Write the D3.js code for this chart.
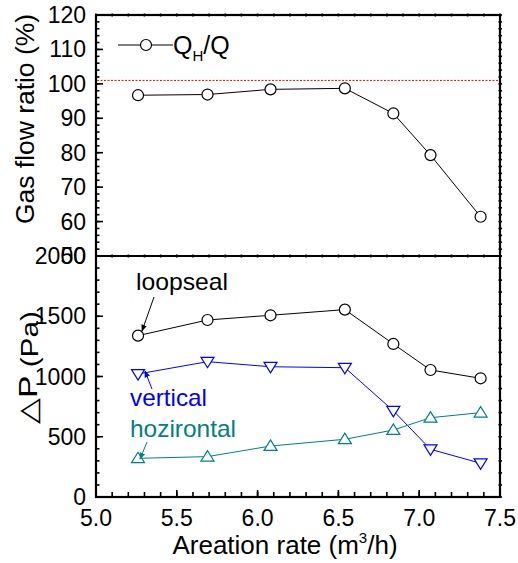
<!DOCTYPE html>
<html>
<head>
<meta charset="utf-8">
<script src="https://cdn.jsdelivr.net/npm/d3@7"></script>
<style>
  html, body { margin: 0; padding: 0; background: #fff; }
  svg { display: block; font-family: "Liberation Sans", Arial, sans-serif; }
</style>
</head>
<body>
<svg id="chart" width="518" height="563"></svg>
<script>
// Aeration rate (m3/h)
const aeration = [5.26, 5.69, 6.08, 6.54, 6.84, 7.07, 7.38];
// Gas flow ratio QH/Q (%)
const gasRatio = [96.7, 96.9, 98.4, 98.7, 91.4, 79.3, 61.4];
const refLine = 101;
// Pressure drops (Pa)
const loopseal = [1339, 1469, 1508, 1555, 1270, 1054, 985];
const vertical = [1021, 1123, 1081, 1073, 716, 396, 280];
const horizontal = [321, 335, 423, 479, 556, 658, 700];

const xTicks = [5.0, 5.5, 6.0, 6.5, 7.0, 7.5];
const topTicks = [50, 60, 70, 80, 90, 100, 110, 120];
const botTicks = [0, 500, 1000, 1500, 2000];

const svg = d3.select("#chart");
const L = 96, R = 500, T = 15, M = 256, B = 497;

const x = d3.scaleLinear().domain([5.0, 7.5]).range([L, R]);
const yTop = d3.scaleLinear().domain([50, 120]).range([M, T]);
const yBot = d3.scaleLinear().domain([0, 2000]).range([B, M]);

const fsTick = 23;
const fsTitle = 26;

// inward tick marks
function ticks(g, scale, values, len, orient, pos) {
  values.forEach(v => {
    const p = scale(v);
    if (orient === "left") g.append("line").attr("x1", pos).attr("x2", pos + len).attr("y1", p).attr("y2", p);
    if (orient === "right") g.append("line").attr("x1", pos - len).attr("x2", pos + 2).attr("y1", p).attr("y2", p);
    if (orient === "bottom") g.append("line").attr("y1", pos).attr("y2", pos - len).attr("x1", p).attr("x2", p);
    if (orient === "top") g.append("line").attr("y1", pos - 1.5).attr("y2", pos + len).attr("x1", p).attr("x2", p);
  });
}
const tg = svg.append("g").attr("stroke", "#000").attr("stroke-width", 1.6);

const xMinor = d3.range(50, 76).map(d => d / 10);
const topMinor = d3.range(50, 121, 2);
const botMinor = d3.range(0, 2001, 100);

ticks(tg, yTop, topMinor, 3.5, "left", L);
ticks(tg, yTop, topTicks, 7, "left", L);
ticks(tg, yBot, botMinor, 3.5, "left", L);
ticks(tg, yBot, botTicks, 7, "left", L);
ticks(tg, yTop, topMinor, 1.5, "right", R);
ticks(tg, yBot, botMinor, 1.5, "right", R);
ticks(tg, x, xMinor, 5, "bottom", B);
ticks(tg, x, xTicks, 7, "bottom", B);
ticks(tg, x, xMinor, 1.5, "top", T);
ticks(tg, x, xMinor, 1.5, "top", M);

// frames
svg.append("rect").attr("x", L).attr("y", T).attr("width", R - L).attr("height", B - T)
  .attr("fill", "none").attr("stroke", "#000").attr("stroke-width", 2.2);
svg.append("line").attr("x1", L).attr("x2", R).attr("y1", M).attr("y2", M)
  .attr("stroke", "#000").attr("stroke-width", 2.2);

// tick labels
const lab = svg.append("g").attr("font-size", fsTick).attr("fill", "#000");
topTicks.forEach(v => lab.append("text").attr("x", 86).attr("y", yTop(v) + 8)
  .attr("text-anchor", "end").text(v));
botTicks.forEach(v => lab.append("text").attr("x", 86).attr("y", yBot(v) + 8)
  .attr("text-anchor", "end").text(v));
xTicks.forEach(v => lab.append("text").attr("x", x(v)).attr("y", 526)
  .attr("text-anchor", "middle").text(v.toFixed(1)));

// axis titles
const xt = svg.append("text").attr("x", 285).attr("y", 554).attr("font-size", fsTitle)
  .attr("text-anchor", "middle");
xt.append("tspan").text("Areation rate (m");
xt.append("tspan").attr("font-size", 15).attr("dy", -11).text("3");
xt.append("tspan").attr("dy", 11).text("/h)");

svg.append("text").attr("transform", "translate(34,119) rotate(-90)")
  .attr("font-size", fsTitle).attr("text-anchor", "middle")
  .attr("textLength", 210).attr("lengthAdjust", "spacingAndGlyphs")
  .text("Gas flow ratio (%)");

const dp = svg.append("text").attr("transform", "translate(37,424) rotate(-90)")
  .attr("font-size", 26).attr("text-anchor", "start")
  .attr("textLength", 113).attr("lengthAdjust", "spacingAndGlyphs");
dp.append("tspan").text("\u25B3P");
dp.append("tspan").attr("font-size", 23).attr("dy", 1).text(" (Pa)");

// reference line
svg.append("line").attr("x1", L + 1).attr("x2", R - 1).attr("y1", yTop(refLine)).attr("y2", yTop(refLine))
  .attr("stroke", "#ff0000").attr("stroke-width", 1).attr("stroke-dasharray", "2,1.5");

// series lines and markers
function series(vals, yScale, color, shape) {
  const pts = aeration.map((a, i) => [x(a), yScale(vals[i])]);
  svg.append("path").attr("d", d3.line()(pts)).attr("fill", "none")
    .attr("stroke", color).attr("stroke-width", 1);
  const g = svg.append("g");
  pts.forEach(([px, py]) => {
    if (shape === "circle") {
      g.append("circle").attr("cx", px).attr("cy", py).attr("r", 5.5)
        .attr("fill", "#fff").attr("stroke", color).attr("stroke-width", 1.2);
    } else {
      const s = shape === "down" ? 1 : -1;
      const h = 5.5;
      const pth = `M${px - 6.5},${py - s * h * 0.8} L${px + 6.5},${py - s * h * 0.8} L${px},${py + s * h * 1.1} Z`;
      g.append("path").attr("d", pth).attr("fill", "#fff").attr("stroke", color).attr("stroke-width", 1.2);
    }
  });
}
series(gasRatio, yTop, "#000", "circle");
series(loopseal, yBot, "#000", "circle");
series(vertical, yBot, "#0000ff", "down");
series(horizontal, yBot, "#008080", "up");

// legend
const lg = svg.append("g");
lg.append("line").attr("x1", 118).attr("x2", 173).attr("y1", 45).attr("y2", 45)
  .attr("stroke", "#000").attr("stroke-width", 1);
lg.append("circle").attr("cx", 146).attr("cy", 45).attr("r", 5.5)
  .attr("fill", "#fff").attr("stroke", "#000").attr("stroke-width", 1.2);
const lt = lg.append("text").attr("x", 173).attr("y", 54).attr("font-size", 25);
lt.append("tspan").text("Q");
lt.append("tspan").attr("font-size", 15).attr("dy", 7).text("H");
lt.append("tspan").attr("dy", -7).text("/Q");

// annotations with arrows
const defs = svg.append("defs");
[["arK", "#000"], ["arB", "#0000ff"], ["arT", "#008080"]].forEach(([id, c]) => {
  defs.append("marker").attr("id", id).attr("viewBox", "0 0 10 10").attr("refX", 9).attr("refY", 5)
    .attr("markerWidth", 7).attr("markerHeight", 7).attr("orient", "auto")
    .append("path").attr("d", "M0,1 L10,5 L0,9 Z").attr("fill", c);
});
function note(txt, tx, ty, len, color, ax1, ay1, ax2, ay2, mk) {
  svg.append("text").attr("x", tx).attr("y", ty).attr("font-size", 24).attr("fill", color)
    .attr("textLength", len).attr("lengthAdjust", "spacingAndGlyphs").text(txt);
  svg.append("line").attr("x1", ax1).attr("y1", ay1).attr("x2", ax2).attr("y2", ay2)
    .attr("stroke", color).attr("stroke-width", 1).attr("marker-end", `url(#${mk})`);
}
note("loopseal", 136, 290, 92, "#000", 154, 297, 142, 331, "arK");
note("vertical", 130, 406, 77, "#0000ff", 152, 389, 145, 371, "arB");
note("hozirontal", 130, 437, 106, "#008080", 147, 442, 140, 459, "arT");
</script>
</body>
</html>
